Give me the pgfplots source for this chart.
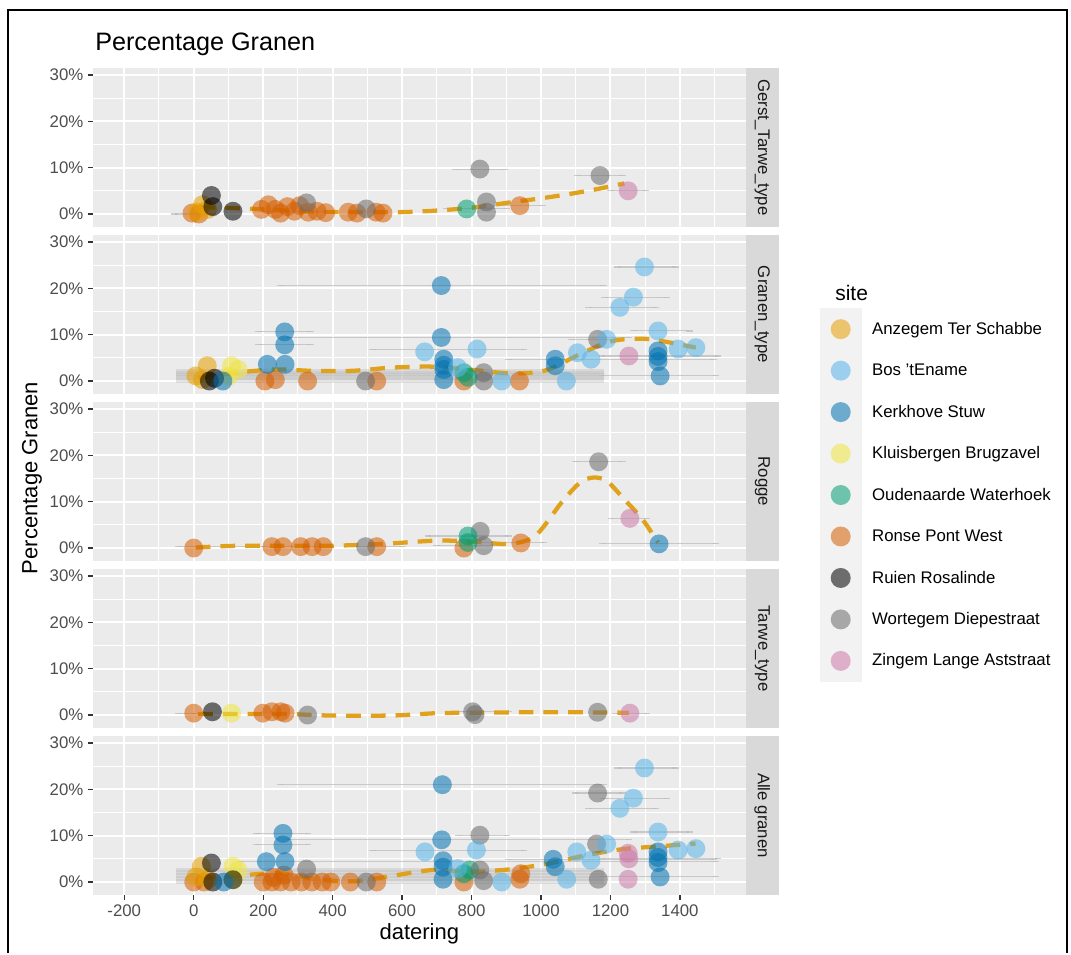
\documentclass[border=0pt]{standalone}
\usepackage{pgfplots}
\pgfplotsset{compat=1.18}
\usepackage{fontspec}
\setmainfont{Liberation Sans}

\definecolor{cA}{HTML}{E69F00}
\definecolor{cB}{HTML}{56B4E9}
\definecolor{cK}{HTML}{0072B2}
\definecolor{cKl}{HTML}{F0E442}
\definecolor{cO}{HTML}{009E73}
\definecolor{cR}{HTML}{D55E00}
\definecolor{cRu}{HTML}{000000}
\definecolor{cW}{HTML}{6B6B6B}
\definecolor{cZ}{HTML}{CC79A7}
\definecolor{panelbg}{HTML}{EBEBEB}
\definecolor{stripbg}{HTML}{D9D9D9}
\definecolor{keybg}{HTML}{F2F2F2}
\definecolor{ticklab}{HTML}{4D4D4D}
\definecolor{tickgray}{HTML}{333333}
\definecolor{ebgray}{HTML}{BDBDBD}
\definecolor{loess}{HTML}{E0A21C}

\newcommand\fsTick{\fontsize{12.6}{15}\selectfont}
\newcommand\fsAxis{\fontsize{16.5}{19}\selectfont}
\newcommand\fsLegT{\fontsize{15.75}{18}\selectfont}
\newcommand\fsTitle{\fontsize{18.9}{22}\selectfont}

\pgfplotsset{
  panel/.style={
    scale only axis, width=489.4pt, height=119.25pt, anchor=north west,
    xmin=-290, xmax=1589, ymin=-2.8, ymax=31.5,
    axis background/.style={fill=panelbg},
    axis line style={draw=none},
    xtick={-200,0,...,1400}, minor xtick={-100,100,...,1500},
    ytick={0,10,20,30}, minor ytick={5,15,25},
    xmajorgrids, ymajorgrids, xminorgrids, yminorgrids,
    major grid style={draw=white, line width=1.5pt},
    minor grid style={draw=white, line width=0.75pt},
    tick align=outside, major tick length=3.75pt, minor tick length=0pt,
    tick style={draw=tickgray, line width=1pt},
    ytick pos=left, xtick pos=bottom,
    yticklabels={0\%,10\%,20\%,30\%},
    ticklabel style={font=\fsTick, text=ticklab},
    clip=true,
  },
  noxlab/.style={xticklabels={}, xtick style={draw=none}},
  site/.style={only marks, forget plot, mark=*, mark size=7.1pt,
    mark options={draw opacity=0, line width=0pt, fill=#1, fill opacity=0.55}},
  eb/.style={forget plot, draw=none, mark=none,
    error bars/x dir=both, error bars/x explicit,
    error bars/error bar style={draw=ebgray, line width=0.8pt, draw opacity=0.75, solid},
    error bars/error mark options={draw=ebgray, line width=0.8pt, mark size=2.5pt, draw opacity=0.75}},
  band/.style={forget plot, draw=none, mark=none,
    error bars/x dir=both, error bars/x explicit,
    error bars/error mark=none,
    error bars/error bar style={draw=ebgray, line width=3.6pt, draw opacity=0.4, solid}},
  lo/.style={forget plot, no marks, draw=loess, line width=3.2pt,
    dash pattern=on 11pt off 7.5pt, smooth, tension=0.5},
}

\begin{document}
\begin{tikzpicture}
\begin{scope}[x=0.75pt,y=-0.75pt]
\useasboundingbox (0,0) rectangle (1071,953);
\end{scope}

% ---------- Gerst_Tarwe_type
\begin{axis}[panel, noxlab, at={(69.75pt,-51pt)}]
\addplot[site=cR] coordinates {(-5,0.2) (15,0) (195,1) (215,2) (235,1) (250,0.2) (270,1.6) (290,0.6) (305,1.8) (330,0.4) (355,0.6) (380,0.3) (445,0.4) (470,0.2) (525,0.4) (545,0.2) (939,1.8)};
\addplot[site=cA] coordinates {(10,0.4) (25,2) (40,1)};
\addplot[site=cRu] coordinates {(51,4) (55,1.6) (113,0.6)};
\addplot[site=cW] coordinates {(325,2.4) (497,1.1) (824,9.7) (843,2.6) (843,0.4) (1170,8.3)};
\addplot[site=cO] coordinates {(786,1.1)};
\addplot[site=cZ] coordinates {(1251,5)};
\addplot[eb] coordinates {(824,9.7) += (70,0) -= (70,0) (1170,8.3) += (65,0) -= (65,0) (1251,5) += (50,0) -= (50,0) (939,1.8) += (65,0) -= (65,0) (786,1.1) += (115,0) -= (58,0) (290,0.6) += (110,0) -= (90,0) (15,0) += (40,0) -= (70,0)};
\addplot[lo] coordinates {(20,1.5) (150,1.2) (250,0.8) (350,0.5) (470,0.4) (590,0.4) (690,0.7) (805,1.4) (910,2.5) (1020,3.6) (1135,5) (1240,6.6)};
\end{axis}

% ---------- Granen_type
\begin{axis}[panel, noxlab, at={(69.75pt,-176.25pt)}]
\addplot[site=cA] coordinates {(6,1.1) (39,3.3) (25,0.3)};
\addplot[site=cKl] coordinates {(109,3.3) (128,2.5) (100,1)};
\addplot[site=cRu] coordinates {(45,0) (60,0.6)};
\addplot[site=cR] coordinates {(205,0) (235,0.3) (328,0) (527,0) (778,0) (938,0)};
\addplot[site=cW] coordinates {(495,0) (835,1.8) (835,0) (1163,9)};
\addplot[site=cO] coordinates {(778,1.8) (790,0.8)};
\addplot[site=cK] coordinates {(84,0) (212,3.6) (263,3.6) (262,10.6) (262,7.8) (713,20.6) (713,9.4) (720,4.7) (720,3.4) (720,2.5) (720,0.3) (1041,4.7) (1041,3.3) (1337,6.5) (1337,5.3) (1337,4.2) (1343,1.1)};
\addplot[site=cB] coordinates {(665,6.3) (760,2.9) (816,6.9) (887,0) (1073,0) (1105,6.1) (1144,4.7) (1189,9) (1227,15.9) (1266,18.1) (1298,24.6) (1337,10.8) (1395,6.9) (1446,7.2)};
\addplot[site=cZ] coordinates {(1253,5.4)};
\addplot[band] coordinates {(205,0.2) += (977,0) -= (256,0) (328,0.7) += (854,0) -= (379,0) (527,1.2) += (655,0) -= (578,0) (720,1.7) += (462,0) -= (771,0) (84,2.1) += (1098,0) -= (135,0)};
\addplot[eb] coordinates {(713,20.6) += (467,0) -= (463,0) (262,10.6) += (75,0) -= (75,0) (262,7.8) += (75,0) -= (75,0) (816,6.9) += (135,0) -= (302,0) (1298,24.6) += (90,0) -= (77,0) (1266,18.1) += (96,0) -= (84,0) (1227,15.9) += (103,0) -= (90,0) (1337,10.8) += (90,0) -= (71,0) (1163,9) += (52,0) -= (77,0) (713,9.4) += (540,0) -= (437,0) (1253,5.4) += (257,0) -= (77,0) (1343,1.1) += (161,0) -= (167,0) (1041,4.7) += (456,0) -= (135,0)};
\addplot[lo] coordinates {(13,0.7) (122,1.8) (238,2.5) (340,2.2) (456,2.2) (572,2.9) (688,3.1) (803,2.4) (906,1.7) (1009,2.2) (1112,5.8) (1189,8.3) (1240,9) (1317,9) (1446,7.2)};
\end{axis}

% ---------- Rogge
\begin{axis}[panel, noxlab, at={(69.75pt,-301.5pt)},
  legend style={at={(1.114,0.415)}, anchor=west, draw=none, fill=none,
    inner sep=0pt, outer sep=0pt, row sep=0pt, column sep=8pt,
    font=\fsTick, nodes={inner sep=0pt}, cells={anchor=west}},
  legend cell align=left,
  legend image code/.code={
    \fill[keybg, fill opacity=1] (0pt,-15.35pt) rectangle (30.75pt,15.35pt);
    \path[fill, draw opacity=0, line width=0pt] (15.4pt,0pt) circle[radius=7.5pt];}]
\addlegendimage{fill=cA, fill opacity=0.55}\addlegendentry{Anzegem Ter Schabbe}
\addlegendimage{fill=cB, fill opacity=0.55}\addlegendentry{Bos 'tEname}
\addlegendimage{fill=cK, fill opacity=0.55}\addlegendentry{Kerkhove Stuw}
\addlegendimage{fill=cKl, fill opacity=0.55}\addlegendentry{Kluisbergen Brugzavel}
\addlegendimage{fill=cO, fill opacity=0.55}\addlegendentry{Oudenaarde Waterhoek}
\addlegendimage{fill=cR, fill opacity=0.55}\addlegendentry{Ronse Pont West}
\addlegendimage{fill=cRu, fill opacity=0.55}\addlegendentry{Ruien Rosalinde}
\addlegendimage{fill=cW, fill opacity=0.55}\addlegendentry{Wortegem Diepestraat}
\addlegendimage{fill=cZ, fill opacity=0.55}\addlegendentry{Zingem Lange Aststraat}
\addplot[site=cR] coordinates {(0,0) (225,0.3) (257,0.3) (308,0.3) (341,0.3) (373,0.3) (527,0.3) (778,0) (942,1.1)};
\addplot[site=cW] coordinates {(495,0.3) (825,3.6) (835,0.5) (1166,18.6)};
\addplot[site=cO] coordinates {(790,2.6) (790,1.2)};
\addplot[site=cZ] coordinates {(1256,6.4)};
\addplot[site=cK] coordinates {(1340,0.9)};
\addplot[eb] coordinates {(1166,18.6) += (68,0) -= (67,0) (1256,6.4) += (49,0) -= (54,0) (1340,0.9) += (164,0) -= (164,0) (790,2.6) += (116,0) -= (115,0) (942,1.1) += (67,0) -= (139,0) (835,0.5) += (45,0) -= (135,0) (257,0.3) += (135,0) -= (302,0) (527,0.3) += (75,0) -= (70,0)};
\addplot[lo] coordinates {(6,0.1) (135,0.5) (392,0.5) (546,0.9) (700,1.6) (803,1.4) (906,0.9) (983,2.6) (1060,9.9) (1112,14.1) (1150,15.2) (1189,14.5) (1240,10.5) (1292,6.2) (1337,1.2)};
\end{axis}

% ---------- Tarwe_type
\begin{axis}[panel, noxlab, at={(69.75pt,-426.75pt)}]
\addplot[site=cR] coordinates {(0,0.4) (199,0.4) (225,0.7) (251,0.7) (263,0.4)};
\addplot[site=cRu] coordinates {(54,0.7)};
\addplot[site=cKl] coordinates {(109,0.4)};
\addplot[site=cW] coordinates {(328,0) (803,0.7) (810,0.1) (1163,0.6)};
\addplot[site=cZ] coordinates {(1256,0.4)};
\addplot[eb] coordinates {(803,0.7) += (103,0) -= (38,0) (1256,0.4) += (49,0) -= (41,0) (0,0.4) += (6,0) -= (45,0)};
\addplot[lo] coordinates {(13,0.2) (135,0.2) (276,0.2) (392,-0.1) (572,-0.1) (700,0.4) (803,0.5) (958,0.6) (1086,0.6) (1253,0.5)};
\end{axis}

% ---------- Alle granen
\begin{axis}[panel, at={(69.75pt,-552pt)},
  xticklabels={-200,0,200,400,600,800,1000,1200,1400}]
\addplot[site=cR] coordinates {(0,0) (30,0) (200,0) (225,0) (250,0) (280,0) (310,0) (340,0) (370,0) (395,0) (230,1) (260,1.5) (451,0) (527,0) (778,0) (939,0.6) (942,1.8)};
\addplot[site=cA] coordinates {(22,3.4) (6,1.1) (40,0.5)};
\addplot[site=cKl] coordinates {(113,3.4) (128,2.5) (115,0.5)};
\addplot[site=cRu] coordinates {(51,4.1) (55,0) (113,0.5)};
\addplot[site=cO] coordinates {(795,2.6) (778,1.8)};
\addplot[site=cW] coordinates {(1163,19.2) (824,10.1) (1160,8.2) (1165,0.6) (824,2.6) (835,0.3) (325,2.8) (497,0)};
\addplot[site=cK] coordinates {(716,21) (257,10.5) (257,8) (209,4.4) (263,4.4) (714,9.1) (718,4.6) (718,3.2) (718,0.6) (87,0) (1035,4.9) (1041,3.3) (1337,6.5) (1337,5.3) (1337,4.2) (1343,1.1)};
\addplot[site=cB] coordinates {(1298,24.6) (1266,18.1) (1227,15.9) (666,6.5) (814,6.9) (1189,8.2) (1337,10.8) (1395,6.9) (1446,7.2) (1103,6.5) (1144,4.7) (1074,0.6) (887,0) (760,2.9)};
\addplot[site=cZ] coordinates {(1251,6.2) (1253,5) (1251,0.6)};
\addplot[band] coordinates {(200,0.2) += (982,0) -= (251,0) (340,0.8) += (842,0) -= (391,0) (527,1.4) += (655,0) -= (578,0) (720,2) += (462,0) -= (771,0) (87,2.6) += (1095,0) -= (138,0)};
\addplot[eb] coordinates {(716,21) += (464,0) -= (466,0) (257,10.5) += (72,0) -= (77,0) (257,8) += (72,0) -= (77,0) (1298,24.6) += (90,0) -= (77,0) (1266,18.1) += (96,0) -= (84,0) (1227,15.9) += (103,0) -= (90,0) (1163,19.2) += (71,0) -= (64,0) (824,10.1) += (78,0) -= (63,0) (1337,10.8) += (90,0) -= (71,0) (714,9.1) += (539,0) -= (438,0) (814,6.9) += (137,0) -= (300,0) (1343,1.1) += (161,0) -= (167,0) (1035,4.9) += (462,0) -= (129,0) (1253,5) += (257,0) -= (77,0) (263,4.4) += (1241,0) -= (128,0)};
\addplot[lo] coordinates {(20,0.9) (115,1.3) (245,1.9) (355,0.6) (465,0.2) (585,1.5) (690,2.6) (795,2.2) (905,2.7) (1015,3.9) (1125,5.7) (1235,7.1) (1320,7.6) (1445,8.3)};
\end{axis}

\begin{scope}[x=0.75pt,y=-0.75pt]
% frame
\draw[black, line width=1.5pt] (8,953) -- (8,10) -- (1067,10) -- (1067,953);
% strips
\foreach \t/\lab in {68/Gerst\_Tarwe\_type,235/Granen\_type,402/Rogge,569/Tarwe\_type,736/Alle granen}{
  \fill[stripbg] (745.6,\t) rectangle (779,\t+159);
  \node[rotate=-90, font=\fsTick, text={black!90}, inner sep=0pt] at (762.3,\t+79.5) {\lab};
}
% titles
\node[anchor=base west, font=\fsTitle, inner sep=0pt] at (95,50) {Percentage Granen};
\node[rotate=90, font=\fsAxis, inner sep=0pt] at (32,478) {Percentage Granen};
\node[anchor=base, font=\fsAxis, inner sep=0pt] at (419.3,939) {datering};
\node[anchor=base west, font=\fsLegT, inner sep=0pt] at (835,300) {site};
\end{scope}
\end{tikzpicture}
\end{document}
